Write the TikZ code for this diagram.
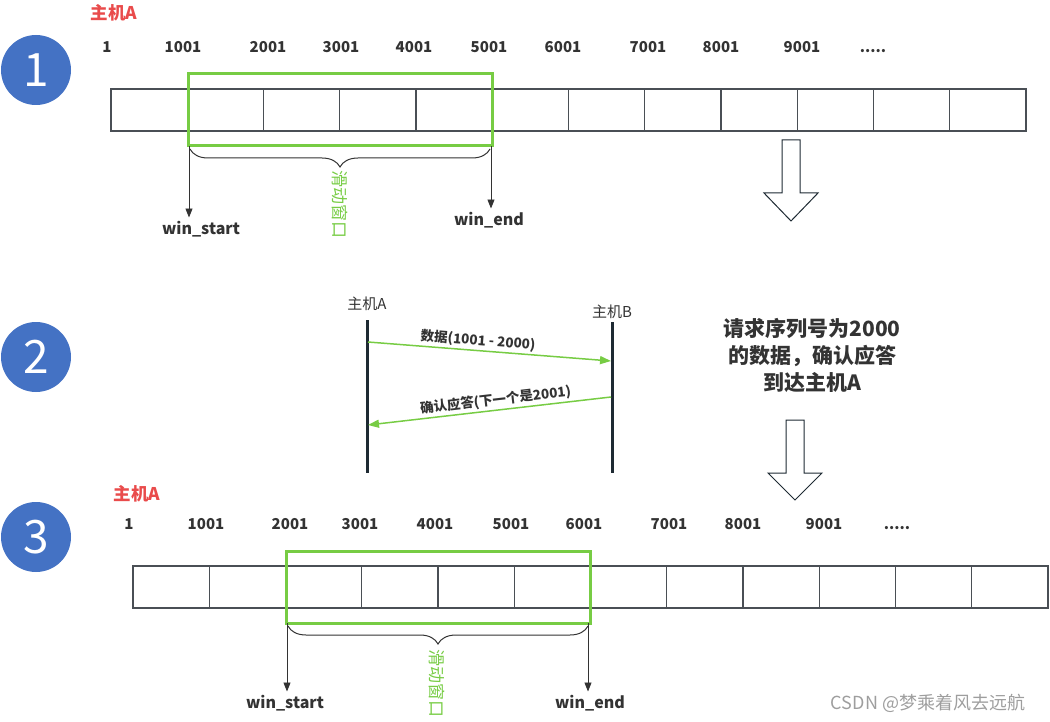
\documentclass[tikz,border=0pt]{standalone}
\usepackage{fontspec}
\setmainfont{Noto Sans CJK SC}
\usetikzlibrary{arrows.meta,decorations.pathreplacing}

\definecolor{hostred}{HTML}{E94B4B}
\definecolor{wingreen}{HTML}{77CC44}
\definecolor{badgeblue}{HTML}{4472C4}
\definecolor{inkgray}{HTML}{333333}
\definecolor{cellgray}{HTML}{4A4F55}
\definecolor{lifeink}{HTML}{1E2A33}

\newcommand\seqmore{.{}.{}.{}.{}.}

\tikzset{
  num/.style={font=\fontsize{15}{15}\selectfont\bfseries,text=inkgray,
    text height=11pt,text depth=0pt},
  host/.style={font=\fontsize{17.5}{17.5}\selectfont\bfseries,text=hostred},
  badge/.style={circle,fill=badgeblue,minimum size=70pt,inner sep=0pt,text=white,
    font=\fontsize{46}{46}\selectfont},
  cell/.style={draw=cellgray,line width=1.2pt},
  window/.style={draw=wingreen,line width=3pt},
  winbrace/.style={decorate,decoration={brace,amplitude=18pt},draw=inkgray,line width=1pt},
  slide/.style={rotate=-90,text=wingreen,font=\fontsize{17}{17}\selectfont},
  winlabel/.style={font=\fontsize{16}{16}\selectfont\bfseries,text=inkgray},
  ptr/.style={-{Triangle[length=9pt,width=7pt]},draw=inkgray,line width=0.9pt},
  hollow/.style={draw=lifeink,line width=1pt,fill=white},
  lifeline/.style={draw=lifeink,line width=3pt},
  lifelabel/.style={font=\fontsize{15}{15}\selectfont,text=inkgray},
  msg/.style={-{Triangle[length=11pt,width=8pt]},draw=wingreen,line width=1.5pt},
  msglabel/.style={font=\fontsize{13.5}{13.5}\selectfont\bfseries,text=inkgray,
    sloped,above,inner sep=2pt},
  note/.style={font=\fontsize{21}{27}\selectfont\bfseries,text=inkgray,align=center}
}

\begin{document}
\begin{tikzpicture}[x=1pt,y=-1pt]
\useasboundingbox (0,0) rectangle (1050,722);

% step 1
\node[badge] (b1) at (36,70) {1};
\node[host] (hostA1) at (114,13) {主机A};
\foreach \x/\t [count=\k] in {107/1,183/1001,268/2001,341/3001,414/4001,489/5001,
    563/6001,648/7001,721/8001,802/9001,873/\seqmore}
  \node[num] (ta\k) at (\x,47) {\t};
\foreach \i in {0,...,11}
  \draw[cell] ({111+76.25*\i},89) rectangle ++(76.25,42);
\draw[window] (188,74) rectangle (492,146);
\coordinate (ws1) at (189,146);
\coordinate (we1) at (491,146);
\draw[winbrace] (490,149) -- (190,149);
\node[slide] (sw1) at (340,205) {滑动窗口};
\node[winlabel] (start1) at (201,229) {win\_start};
\node[winlabel] (end1) at (489,220) {win\_end};
\draw[ptr] (ws1) -- (ws1 |- start1.north);
\draw[ptr] (we1) -- (we1 |- end1.north);
\draw[hollow] (782,140) -- (800,140) -- (800,193) -- (818,193) -- (791,221)
  -- (764,193) -- (782,193) -- cycle;

% step 2
\node[badge] (b2) at (36,357) {2};
\node[lifelabel] (hA) at (367,304) {主机A};
\node[lifelabel] (hB) at (612,312) {主机B};
\draw[lifeline] (367,320) -- (367,473);
\draw[lifeline] (612,322) -- (612,473);
\coordinate (a1) at (368,342);
\coordinate (b1r) at (611,361);
\coordinate (b2r) at (611,397);
\coordinate (a2) at (368,425);
\draw[msg] (a1) -- (b1r) node[msglabel,pos=0.45] {数据(1001 - 2000)};
\draw[msg] (b2r) -- (a2) node[msglabel,pos=0.47] {确认应答(下一个是2001)};
\node[note] (ack) at (812,355) {请求序列号为2000\\的数据，确认应答\\到达主机A};
\draw[hollow] (786,420) -- (804,420) -- (804,473) -- (822,473) -- (795,500)
  -- (768,473) -- (786,473) -- cycle;

% step 3
\node[badge] (b3) at (36,537) {3};
\node[host] (hostA3) at (137,494) {主机A};
\foreach \x/\t [count=\k] in {129/1,206/1001,290/2001,360/3001,435/4001,511/5001,
    584/6001,669/7001,743/8001,824/9001,897/\seqmore}
  \node[num] (tb\k) at (\x,524) {\t};
\foreach \i in {0,...,11}
  \draw[cell] ({133+76.25*\i},566) rectangle ++(76.25,42);
\draw[window] (286,551) rectangle (590,623);
\coordinate (ws3) at (287,623);
\coordinate (we3) at (588,623);
\draw[winbrace] (588,626) -- (288,626);
\node[slide] (sw3) at (437,683) {滑动窗口};
\node[winlabel] (start3) at (285,703) {win\_start};
\node[winlabel] (end3) at (590,703) {win\_end};
\draw[ptr] (ws3) -- (ws3 |- start3.north);
\draw[ptr] (we3) -- (we3 |- end3.north);

\node[font=\fontsize{18}{18}\selectfont,text=black!38] (mark) at (928,703) {CSDN @梦乘着风去远航};
\end{tikzpicture}
\end{document}
